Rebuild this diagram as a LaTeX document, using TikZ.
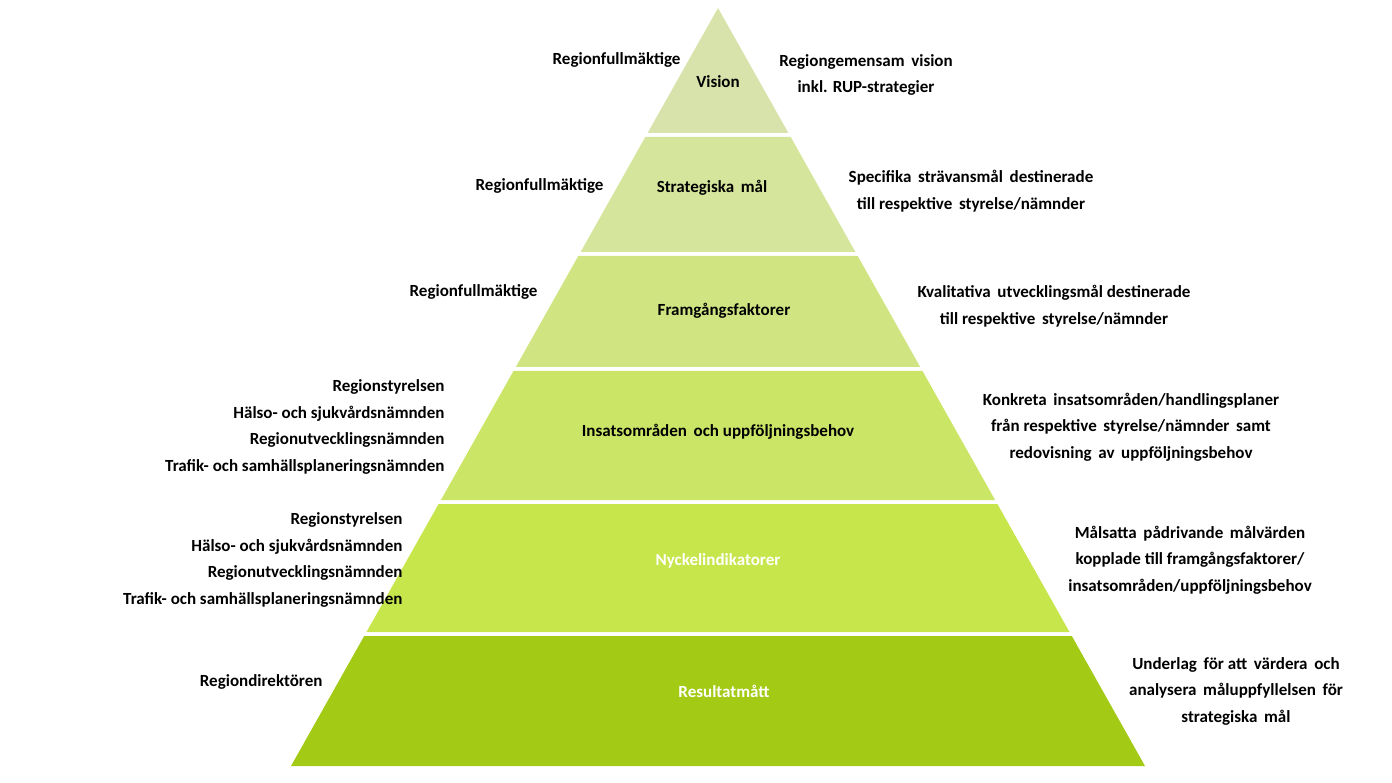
\documentclass[tikz,border=0pt]{standalone}
\usepackage{fontspec}
\setmainfont{Carlito}
\definecolor{lvA}{HTML}{D7E3AB}
\definecolor{lvB}{HTML}{D5E59C}
\definecolor{lvC}{HTML}{D0E582}
\definecolor{lvD}{HTML}{CBE567}
\definecolor{lvE}{HTML}{C6E64B}
\definecolor{lvF}{HTML}{A3CA14}
\tikzset{
  title/.style={font=\bfseries\fontsize{17}{20}\selectfont},
  who/.style={anchor=east,align=right,font=\bfseries\fontsize{17}{26.5}\selectfont},
  what/.style={align=center,font=\bfseries\fontsize{17}{26.5}\selectfont}
}
\begin{document}
\begin{tikzpicture}[x=1pt,y=-1pt]
    \useasboundingbox (0,0) rectangle (1392,783);
    % pyramid layers
    \fill[lvA] (718,8) -- (788.4,133) -- (647.6,133) -- cycle;
    \fill[lvB] (645.3,137) -- (790.7,137) -- (855.4,252) -- (580.6,252) -- cycle;
    \fill[lvC] (578.3,256) -- (857.7,256) -- (920.2,367) -- (515.8,367) -- cycle;
    \fill[lvD] (513.5,371) -- (922.5,371) -- (995.1,500) -- (440.9,500) -- cycle;
    \fill[lvE] (438.6,504) -- (997.4,504) -- (1069.5,632) -- (366.5,632) -- cycle;
    \fill[lvF] (364.2,636) -- (1071.8,636) -- (1145,766) -- (291,766) -- cycle;

    \node[title] (vision) at (718,82) {Vision};
    \node[title] (mal) at (712,188) {Strategiska\, mål};
    \node[title] (fram) at (724,311) {Framgångsfaktorer};
    \node[title] (insats) at (718,432) {Insatsområden\, och uppföljningsbehov};
    \node[title,white] (nyckel) at (718,561) {Nyckelindikatorer};
    \node[title,white] (result) at (724,691) {Resultatmått};

    \node[who] (visionWho) at (684,60) {Regionfullmäktige};
    \node[who] (malWho) at (607,186) {Regionfullmäktige};
    \node[who] (framWho) at (541,292) {Regionfullmäktige};
    \node[who] (insatsWho) at (448,427) {Regionstyrelsen\\Hälso- och sjukvårdsnämnden\\Regionutvecklingsnämnden\\Trafik- och samhällsplaneringsnämnden};
    \node[who] (nyckelWho) at (406,560) {Regionstyrelsen\\Hälso- och sjukvårdsnämnden\\Regionutvecklingsnämnden\\Trafik- och samhällsplaneringsnämnden};
    \node[who] (resultWho) at (326,682) {Regiondirektören};

    \node[what] (visionWhat) at (866,75) {Regiongemensam\, vision\\inkl. RUP-strategier};
    \node[what] (malWhat) at (971,191) {Specifika\, strävansmål\, destinerade\\till respektive\, styrelse/nämnder};
    \node[what] (framWhat) at (1054,306) {Kvalitativa\, utvecklingsmål destinerade\\till respektive\, styrelse/nämnder};
    \node[what] (insatsWhat) at (1131,427) {Konkreta\, insatsområden/handlingsplaner\\från respektive\, styrelse/nämnder\, samt\\redovisning\, av\, uppföljningsbehov};
    \node[what] (nyckelWhat) at (1190,560) {Målsatta\, pådrivande\, målvärden\\kopplade till framgångsfaktorer/\\insatsområden/uppföljningsbehov};
    \node[what] (resultWhat) at (1236,691) {Underlag\, för att\, värdera\, och\\analysera\, måluppfyllelsen\, för\\strategiska\, mål};
\end{tikzpicture}
\end{document}
